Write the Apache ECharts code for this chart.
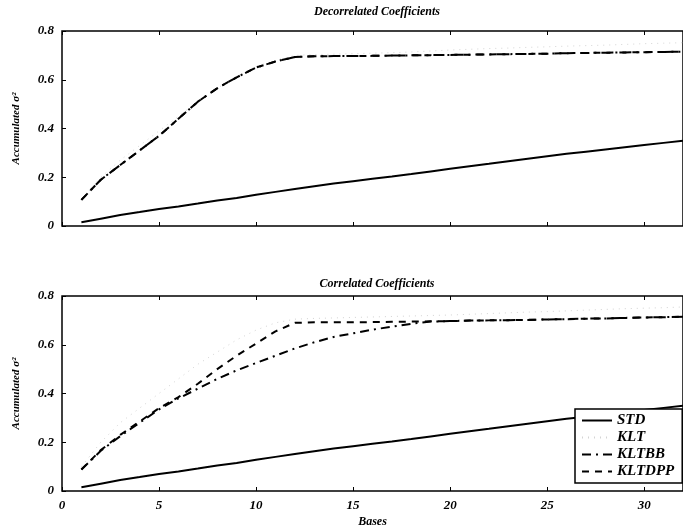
<!DOCTYPE html>
<html>
<head>
<meta charset="utf-8">
<script src="https://cdn.jsdelivr.net/npm/echarts@6/dist/echarts.min.js"></script>
<style>
    html, body { margin: 0; padding: 0; background: #fff; }
    #main { width: 683px; height: 531px; }
</style>
</head>
<body>
<div id="main"></div>
<script>
    // x values (number of bases)
    var bases = [1,2,3,4,5,6,7,8,9,10,11,12,13,14,15,16,17,18,19,20,21,22,23,24,25,26,27,28,29,30,31,32];
    var yTicks = [0, 0.2, 0.4, 0.6, 0.8];
    var xTicks = [0, 5, 10, 15, 20, 25, 30];

    // Decorrelated coefficients (top)
    var topSTD    = [0.015,0.03,0.045,0.057,0.07,0.08,0.092,0.105,0.115,0.128,0.14,0.152,0.163,0.174,0.184,0.194,0.203,0.213,0.224,0.235,0.245,0.255,0.266,0.276,0.286,0.296,0.305,0.314,0.323,0.332,0.341,0.35];
    var topKLT    = [0.107,0.2,0.27,0.33,0.39,0.45,0.51,0.565,0.615,0.655,0.68,0.7,0.703,0.705,0.707,0.709,0.711,0.714,0.718,0.722,0.725,0.728,0.73,0.733,0.735,0.738,0.74,0.742,0.745,0.748,0.75,0.752];
    var topKLTBB  = [0.107,0.19,0.25,0.31,0.37,0.44,0.51,0.565,0.61,0.65,0.675,0.693,0.696,0.697,0.697,0.698,0.699,0.7,0.701,0.702,0.703,0.704,0.705,0.706,0.707,0.709,0.71,0.711,0.712,0.713,0.714,0.715];
    var topKLTDPP = [0.107,0.19,0.25,0.31,0.37,0.44,0.51,0.565,0.61,0.65,0.675,0.693,0.696,0.697,0.697,0.698,0.699,0.7,0.701,0.702,0.703,0.704,0.705,0.706,0.707,0.709,0.71,0.711,0.712,0.713,0.714,0.715];

    // Correlated coefficients (bottom)
    var botSTD    = [0.015,0.03,0.045,0.057,0.07,0.08,0.092,0.105,0.115,0.128,0.14,0.152,0.163,0.174,0.184,0.194,0.203,0.213,0.224,0.235,0.245,0.255,0.266,0.276,0.286,0.296,0.305,0.314,0.323,0.332,0.341,0.35];
    var botKLT    = [0.1,0.2,0.28,0.34,0.4,0.46,0.52,0.57,0.62,0.66,0.69,0.705,0.708,0.71,0.712,0.714,0.716,0.718,0.72,0.722,0.725,0.728,0.731,0.734,0.736,0.739,0.742,0.745,0.748,0.75,0.752,0.755];
    var botKLTBB  = [0.088,0.165,0.225,0.28,0.335,0.38,0.42,0.46,0.495,0.525,0.555,0.585,0.61,0.632,0.647,0.662,0.674,0.686,0.695,0.697,0.699,0.7,0.701,0.702,0.704,0.705,0.707,0.708,0.71,0.712,0.713,0.715];
    var botKLTDPP = [0.088,0.168,0.23,0.285,0.34,0.385,0.44,0.5,0.555,0.605,0.655,0.69,0.692,0.692,0.692,0.693,0.694,0.695,0.696,0.697,0.699,0.7,0.701,0.702,0.704,0.705,0.707,0.708,0.71,0.712,0.713,0.715];

    var names = ['STD', 'KLT', 'KLTBB', 'KLTDPP'];

    function pairs(ys) {
        var out = [];
        for (var i = 0; i < bases.length; i++) {
            out.push([bases[i], ys[i]]);
        }
        return out;
    }

    var font = 'Liberation Serif';
    var labelStyle = { color: '#000', fontFamily: font, fontStyle: 'italic', fontWeight: 'bold', fontSize: 13 };

    function xAx(grid, pos, showLabels) {
        return {
            type: 'value', gridIndex: grid, position: pos,
            min: 0, max: 32, interval: 5,
            axisLine: { show: false },
            axisTick: { show: true, inside: true, length: 4, lineStyle: { color: '#000', width: 1 } },
            axisLabel: Object.assign({ show: showLabels, margin: 8,
                customValues: xTicks }, labelStyle),
            splitLine: { show: false },
            name: (showLabels && grid === 1) ? 'Bases' : '',
            nameLocation: 'middle', nameGap: 25,
            nameTextStyle: { color: '#000', fontFamily: font, fontStyle: 'italic', fontWeight: 'bold', fontSize: 12 }
        };
    }

    function yAx(grid) {
        return {
            type: 'value', gridIndex: grid,
            min: 0, max: 0.8, interval: 0.2,
            axisLine: { show: false },
            axisTick: { show: true, inside: true, length: 4, lineStyle: { color: '#000', width: 1 } },
            axisLabel: Object.assign({ margin: 8, formatter: function (v) { return v === 0 ? '0' : v.toFixed(1); } }, labelStyle),
            splitLine: { show: false },
            name: 'Accumulated \u03c3\u00b2',
            nameLocation: 'middle', nameGap: 40, nameRotate: 90,
            nameTextStyle: { color: '#000', fontFamily: font, fontStyle: 'italic', fontWeight: 'bold', fontSize: 11 }
        };
    }

    function lineSeries(name, grid, ys) {
        var ls = { color: '#000', width: 2 };
        if (name === 'KLT') { ls = { color: '#d4d4d4', width: 1, type: [1, 5] }; }
        if (name === 'KLTBB') { ls = { color: '#000', width: 2, type: [9, 5, 2, 5] }; }
        if (name === 'KLTDPP') { ls = { color: '#000', width: 2, type: [7, 6] }; }
        return {
            name: name, type: 'line',
            xAxisIndex: grid * 2, yAxisIndex: grid,
            data: pairs(ys),
            symbol: 'none', smooth: false,
            lineStyle: ls,
            // transparent symbol so the legend shows only the line sample
            itemStyle: { color: 'rgba(0,0,0,0)', borderWidth: 0 },
            z: name === 'KLT' ? 1 : 2
        };
    }

    var myChart = echarts.init(document.getElementById('main'));
    var option = {
        backgroundColor: '#fff',
        animation: false,
        title: [
            { text: 'Decorrelated Coefficients', left: 372, top: 1, textAlign: 'center',
              textStyle: { color: '#000', fontFamily: font, fontStyle: 'italic', fontWeight: 'bold', fontSize: 12 } },
            { text: 'Correlated Coefficients', left: 372, top: 273, textAlign: 'center',
              textStyle: { color: '#000', fontFamily: font, fontStyle: 'italic', fontWeight: 'bold', fontSize: 12 } }
        ],
        legend: {
            data: names,
            orient: 'vertical',
            left: 575, top: 409,
            itemWidth: 30, itemHeight: 10, itemGap: 2,
            padding: [4, 8, 4, 6],
            backgroundColor: '#fff',
            borderColor: '#000', borderWidth: 1.5, borderRadius: 0,
            textStyle: { color: '#000', fontFamily: font, fontStyle: 'italic', fontWeight: 'bold', fontSize: 15 }
        },
        grid: [
            { left: 62, top: 31, width: 621, height: 195, show: true, borderColor: '#000', borderWidth: 1.5, backgroundColor: 'transparent' },
            { left: 62, top: 296, width: 621, height: 195, show: true, borderColor: '#000', borderWidth: 1.5, backgroundColor: 'transparent' }
        ],
        xAxis: [
            xAx(0, 'bottom', false), xAx(0, 'top', false),
            xAx(1, 'bottom', true), xAx(1, 'top', false)
        ],
        yAxis: [yAx(0), yAx(1)],
        series: [
            lineSeries('STD', 0, topSTD),
            lineSeries('KLT', 0, topKLT),
            lineSeries('KLTBB', 0, topKLTBB),
            lineSeries('KLTDPP', 0, topKLTDPP),
            lineSeries('STD', 1, botSTD),
            lineSeries('KLT', 1, botKLT),
            lineSeries('KLTBB', 1, botKLTBB),
            lineSeries('KLTDPP', 1, botKLTDPP)
        ]
    };
    // 使用刚指定的配置项和数据显示图表。
    myChart.setOption(option);
</script>
</body>
</html>
